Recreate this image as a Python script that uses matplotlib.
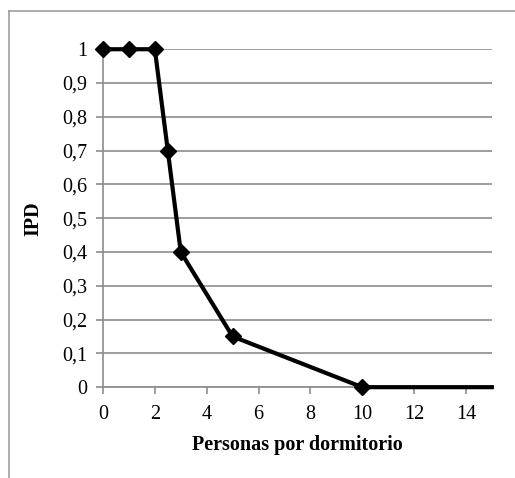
import matplotlib
matplotlib.use("Agg")
import matplotlib.pyplot as plt
from matplotlib.lines import Line2D
from matplotlib.ticker import FuncFormatter

# datos
personas = [0, 1, 2, 2.5, 3, 5, 10, 15]
ipd = [1, 1, 1, 0.7, 0.4, 0.15, 0, 0]
x_ticks = [0, 2, 4, 6, 8, 10, 12, 14]
y_ticks = [0, 0.1, 0.2, 0.3, 0.4, 0.5, 0.6, 0.7, 0.8, 0.9, 1]

plt.rcParams['font.family'] = ['Liberation Serif', 'DejaVu Serif']

fig = plt.figure(figsize=(5.15, 4.78), dpi=100)
ax = fig.add_axes([0.2, 0.19, 0.755, 0.707])

ax.plot(personas, ipd, color='black', lw=3, marker='D', ms=8,
        markevery=list(range(len(personas) - 1)), clip_on=False, zorder=5)

ax.set_xlim(0, 15)
ax.set_ylim(0, 1)
ax.set_xticks(x_ticks)
ax.set_yticks(y_ticks)
ax.yaxis.set_major_formatter(FuncFormatter(lambda v, p: ('%g' % round(v, 1)).replace('.', ',')))
ax.grid(axis='y', color='#8c8c8c', lw=1.2)
ax.set_axisbelow(True)

for s in ['top', 'right']:
    ax.spines[s].set_visible(False)
for s in ['left', 'bottom']:
    ax.spines[s].set_color('#8c8c8c')
    ax.spines[s].set_linewidth(1.2)
ax.tick_params(axis='both', direction='out', length=5, color='#8c8c8c', width=1.2,
               labelsize=14.5)
ax.tick_params(axis='x', pad=8)
ax.tick_params(axis='y', pad=6)

ax.set_xlabel('Personas por dormitorio', fontsize=14.5, fontweight='bold', labelpad=8)
ax.set_ylabel('IPD', fontsize=14.5, fontweight='bold', labelpad=14)

# marco del grafico
fig.add_artist(Line2D([9/515, 1], [1 - 11/478, 1 - 11/478], color='#a0a0a0', lw=1.2, transform=fig.transFigure))
fig.add_artist(Line2D([9/515, 9/515], [0, 1 - 11/478], color='#a0a0a0', lw=1.2, transform=fig.transFigure))

fig.savefig('out.png', dpi=100)
